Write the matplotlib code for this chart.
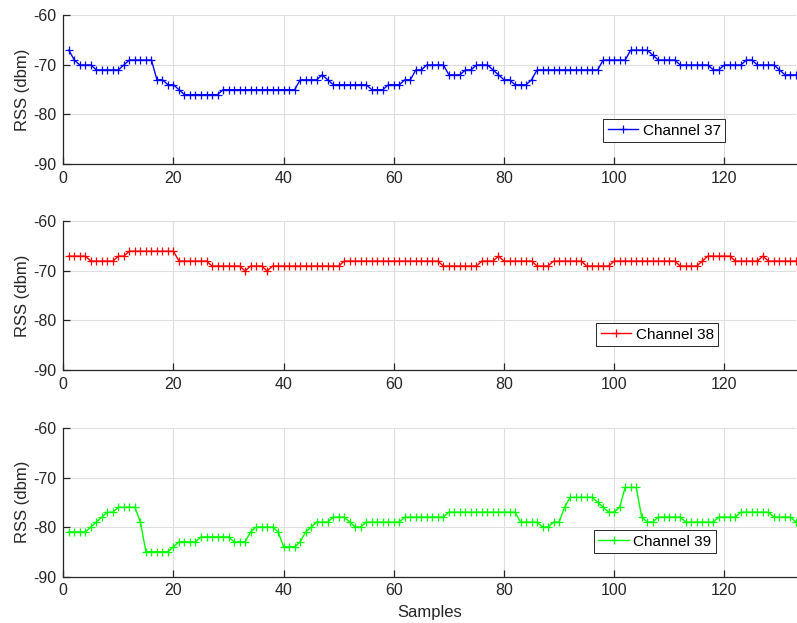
import matplotlib
matplotlib.use('Agg')
import matplotlib.pyplot as plt

# RSS readings per advertising channel, one value per sample (1..133)
ch37 = [-67, -69, -70, -70, -70, -71, -71, -71, -71, -71,
        -70, -69, -69, -69, -69, -69, -73, -73, -74, -74,
        -75, -76, -76, -76, -76, -76, -76, -76, -75, -75,
        -75, -75, -75, -75, -75, -75, -75, -75, -75, -75,
        -75, -75, -73, -73, -73, -73, -72, -73, -74, -74,
        -74, -74, -74, -74, -74, -75, -75, -75, -74, -74,
        -74, -73, -73, -71, -71, -70, -70, -70, -70, -72,
        -72, -72, -71, -71, -70, -70, -70, -71, -72, -73,
        -73, -74, -74, -74, -73, -71, -71, -71, -71, -71,
        -71, -71, -71, -71, -71, -71, -71, -69, -69, -69,
        -69, -69, -67, -67, -67, -67, -68, -69, -69, -69,
        -69, -70, -70, -70, -70, -70, -70, -71, -71, -70,
        -70, -70, -70, -69, -69, -70, -70, -70, -70, -71,
        -72, -72, -72]

ch38 = [-67, -67, -67, -67, -68, -68, -68, -68, -68, -67,
        -67, -66, -66, -66, -66, -66, -66, -66, -66, -66,
        -68, -68, -68, -68, -68, -68, -69, -69, -69, -69,
        -69, -69, -70, -69, -69, -69, -70, -69, -69, -69,
        -69, -69, -69, -69, -69, -69, -69, -69, -69, -69,
        -68, -68, -68, -68, -68, -68, -68, -68, -68, -68,
        -68, -68, -68, -68, -68, -68, -68, -68, -69, -69,
        -69, -69, -69, -69, -69, -68, -68, -68, -67, -68,
        -68, -68, -68, -68, -68, -69, -69, -69, -68, -68,
        -68, -68, -68, -68, -69, -69, -69, -69, -69, -68,
        -68, -68, -68, -68, -68, -68, -68, -68, -68, -68,
        -68, -69, -69, -69, -69, -68, -67, -67, -67, -67,
        -67, -68, -68, -68, -68, -68, -67, -68, -68, -68,
        -68, -68, -68]

ch39 = [-81, -81, -81, -81, -80, -79, -78, -77, -77, -76,
        -76, -76, -76, -79, -85, -85, -85, -85, -85, -84,
        -83, -83, -83, -83, -82, -82, -82, -82, -82, -82,
        -83, -83, -83, -81, -80, -80, -80, -80, -81, -84,
        -84, -84, -83, -81, -80, -79, -79, -79, -78, -78,
        -78, -79, -80, -80, -79, -79, -79, -79, -79, -79,
        -79, -78, -78, -78, -78, -78, -78, -78, -78, -77,
        -77, -77, -77, -77, -77, -77, -77, -77, -77, -77,
        -77, -77, -79, -79, -79, -79, -80, -80, -79, -79,
        -76, -74, -74, -74, -74, -74, -75, -76, -77, -77,
        -76, -72, -72, -72, -78, -79, -79, -78, -78, -78,
        -78, -78, -79, -79, -79, -79, -79, -79, -78, -78,
        -78, -78, -77, -77, -77, -77, -77, -77, -78, -78,
        -78, -78, -79]

samples = list(range(1, len(ch37) + 1))
labels = ['Channel 37', 'Channel 38', 'Channel 39']
colors = ['#0000ff', '#ff0000', '#00ff00']
x_ticks = [0, 20, 40, 60, 80, 100, 120]
y_ticks = [-90, -80, -70, -60]

plt.rcParams['font.family'] = ['Liberation Sans', 'DejaVu Sans']
plt.rcParams['axes.unicode_minus'] = False  # plain hyphen like the original
dark = '#262626'

fig = plt.figure(figsize=(7.97, 6.23), dpi=100)

# axes boxes in figure fractions: left, bottom, width, height
boxes = [[0.0794, 0.7368, 0.9193, 0.2384],
         [0.0794, 0.4061, 0.9193, 0.2384],
         [0.0794, 0.0746, 0.9193, 0.2384]]
legend_anchor = [(0.7366, 0.303), (0.727, 0.316), (0.724, 0.313)]

for i, series in enumerate([ch37, ch38, ch39]):
    ax = fig.add_axes(boxes[i])
    ax.plot(samples, series, color=colors[i], marker='+', markersize=5.5,
            markeredgewidth=0.9, linewidth=1.0, label=labels[i])

    ax.set_xlim(0, 133)
    ax.set_ylim(-90, -60)
    ax.set_xticks(x_ticks)
    ax.set_yticks(y_ticks)
    ax.grid(True, color='#dedede', linewidth=0.8)
    ax.set_axisbelow(True)

    # box off, like the original figure
    ax.spines['top'].set_visible(False)
    ax.spines['right'].set_visible(False)
    for side in ['left', 'bottom']:
        ax.spines[side].set_color(dark)
        ax.spines[side].set_linewidth(0.9)
    ax.tick_params(direction='in', length=5, width=0.9, colors=dark,
                   labelsize=11.5, pad=5)

    ax.set_ylabel('RSS (dbm)', fontsize=12, color=dark, labelpad=2)
    if i == 2:
        ax.set_xlabel('Samples', fontsize=12, color=dark, labelpad=5)

    leg = ax.legend(loc='upper left', bbox_to_anchor=legend_anchor[i],
                    fontsize=11, fancybox=False, framealpha=1,
                    edgecolor=dark, handlelength=2.0, handletextpad=0.3,
                    borderpad=0.3, borderaxespad=0)
    leg.get_frame().set_linewidth(0.7)

fig.savefig('out.png', dpi=100)
